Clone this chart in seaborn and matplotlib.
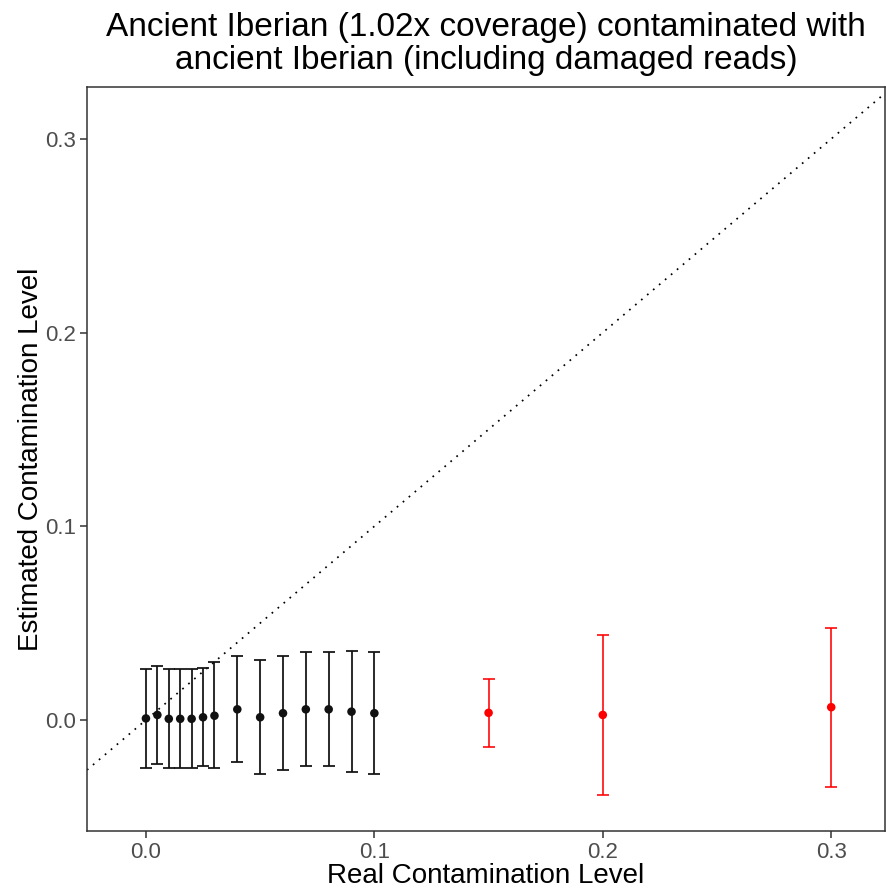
import matplotlib
matplotlib.use("Agg")
import matplotlib.pyplot as plt
import seaborn as sns
import numpy as np
import pandas as pd

sns.set_theme(style="white")
plt.rcParams['font.family'] = ['Liberation Sans', 'DejaVu Sans']

# Data
real_black = [0.0, 0.005, 0.01, 0.015, 0.02, 0.025, 0.03, 0.04, 0.05, 0.06, 0.07, 0.08, 0.09, 0.1]
est_black = [0.0008, 0.0026, 0.0006, 0.0006, 0.0006, 0.0014, 0.0022, 0.0055, 0.0014, 0.0035, 0.0055, 0.0055, 0.0043, 0.0035]
upper_black = [0.0262, 0.0280, 0.0262, 0.0262, 0.0262, 0.0270, 0.0298, 0.0332, 0.0310, 0.0332, 0.0350, 0.0350, 0.0358, 0.0350]
lower_black = [-0.0246, -0.0227, -0.0246, -0.0246, -0.0246, -0.0237, -0.0246, -0.0218, -0.0279, -0.0258, -0.0237, -0.0237, -0.0267, -0.0279]

real_red = [0.15, 0.2, 0.3]
est_red = [0.0037, 0.0026, 0.0066]
upper_red = [0.0212, 0.0439, 0.0477]
lower_red = [-0.0141, -0.0386, -0.0346]

df = pd.DataFrame({
    "real": real_black + real_red,
    "est": est_black + est_red,
    "upper": upper_black + upper_red,
    "lower": lower_black + lower_red,
    "group": ["black"] * len(real_black) + ["red"] * len(real_red),
})

fig = plt.figure(figsize=(8.86, 8.94), dpi=100)
ax = fig.add_axes([0.0982, 0.0705, 0.9008, 0.8322])

xlim = (-0.0258, 0.3236)
ylim = (-0.0573, 0.3268)

# identity line
ax.plot(xlim, xlim, color="black", linestyle=(0, (1, 3.5)), linewidth=1.25, zorder=1)

palette = {"black": "#111111", "red": "#FF0000"}
for g, sub in df.groupby("group"):
    ax.errorbar(sub["real"], sub["est"],
                yerr=[sub["est"] - sub["lower"], sub["upper"] - sub["est"]],
                fmt="none", ecolor=palette[g], elinewidth=1.45, capsize=4.3,
                capthick=1.45, zorder=2, alpha=0.8 if g == "red" else 0.88)

sns.scatterplot(data=df, x="real", y="est", hue="group", palette=palette,
                s=38, edgecolor="none", legend=False, ax=ax, zorder=3)

ax.set_xlim(*xlim)
ax.set_ylim(*ylim)
ax.set_xticks([0.0, 0.1, 0.2, 0.3])
ax.set_yticks([0.0, 0.1, 0.2, 0.3])
ax.set_xticklabels(["0.0", "0.1", "0.2", "0.3"])
ax.set_yticklabels(["0.0", "0.1", "0.2", "0.3"])
ax.tick_params(axis="both", which="both", direction="out", length=5, width=1.1,
               color="#333333", labelcolor="#4D4D4D", labelsize=16, pad=3,
               bottom=True, left=True)
for sp in ax.spines.values():
    sp.set_visible(True)
    sp.set_color("#333333")
    sp.set_linewidth(1.1)
ax.grid(False)

ax.set_xlabel("Real Contamination Level", fontsize=20, color="black", labelpad=0)
ax.set_ylabel("Estimated Contamination Level", fontsize=20, color="black", labelpad=1)
ax.set_title("Ancient Iberian (1.02x coverage) contaminated with\nancient Iberian (including damaged reads)",
             fontsize=24, color="black", pad=13, linespacing=1.1)

fig.savefig("out.png", dpi=100)
